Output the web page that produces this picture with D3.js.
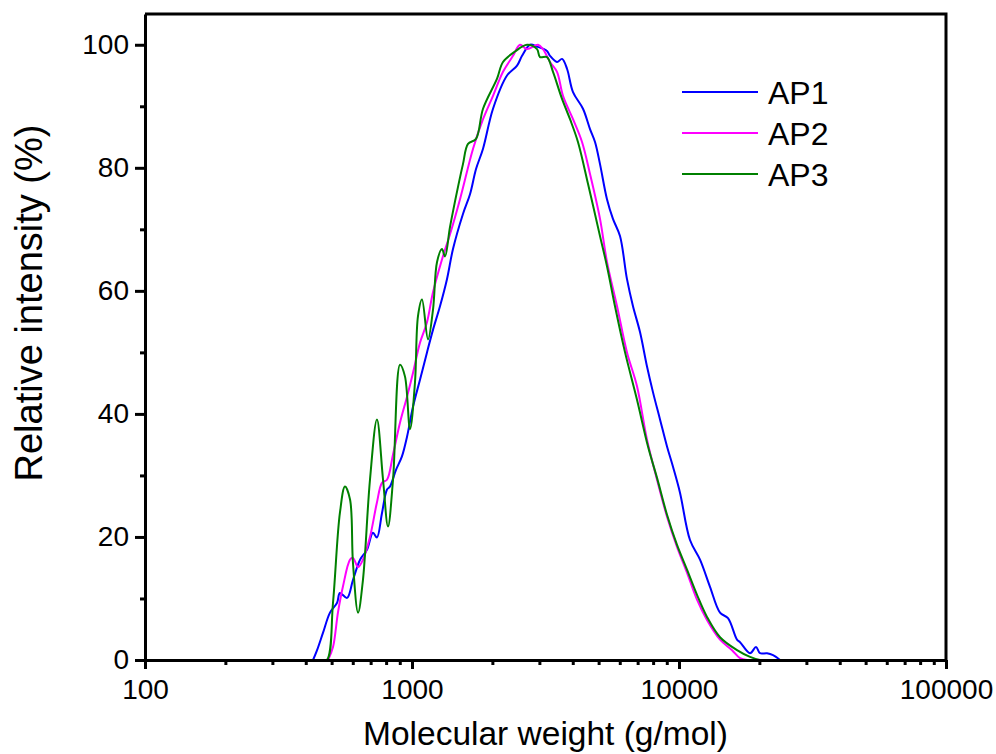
<!DOCTYPE html>
<meta charset="utf-8">
<head>
<title>Molecular weight distribution</title>
<style>
  body { margin: 0; background: #fff; }
  text { font-family: "Liberation Sans", Arial, sans-serif; fill: #000; }
  .axis path, .axis line { stroke: #000; stroke-width: 3; }
  .series { fill: none; stroke-width: 2; stroke-linejoin: round; }
</style>
</head>
<body>
<svg width="996" height="754"></svg>
<script src="https://d3js.org/d3.v7.min.js"></script>
<script>
// AP1 (blue)
var ap1Mw = [426, 441, 464, 493, 524, 537, 571, 601, 639, 678, 714, 739, 772, 806, 827, 871, 917, 958, 1009, 1072, 1138, 1199, 1273, 1352, 1424, 1552, 1649, 1737, 1845, 2011, 2269, 2474, 2583, 2767, 2939, 3203, 3288, 3492, 3647, 3807, 4009, 4369, 4642, 4847, 5060, 5374, 5658, 6012, 6386, 6725, 7144, 7589, 7993, 8490, 9018, 9496, 10086, 10995, 11987, 13064, 14244, 15259, 16493, 16925, 18450, 19430, 20110, 21360, 22500, 23900];
var ap1Val = [0, 1.6, 4.4, 7.7, 9.3, 10.9, 10.1, 13.0, 16.3, 17.9, 20.7, 19.9, 23.9, 27.7, 28.2, 30.9, 33.1, 36.3, 41.2, 45.6, 50.0, 53.7, 57.5, 61.9, 66.8, 72.5, 75.7, 79.8, 83.1, 89.6, 95.0, 96.6, 98.2, 100, 99.7, 99.0, 98.2, 97.2, 97.7, 96.1, 92.3, 89.6, 86.3, 84.2, 80.6, 74.9, 71.7, 68.9, 61.9, 57.5, 53.3, 47.7, 43.5, 39.1, 34.7, 31.4, 27.2, 19.5, 16.3, 11.9, 7.7, 6.8, 3.3, 2.9, 1.1, 2.1, 1.1, 1.1, 0.8, 0];

// AP2 (magenta)
var ap2Mw = [485, 506, 528, 551, 586, 601, 628, 655, 696, 739, 772, 806, 849, 902, 958, 1009, 1072, 1138, 1199, 1295, 1388, 1513, 1693, 1845, 2011, 2192, 2389, 2538, 2696, 2965, 3095, 3288, 3492, 3677, 4009, 4333, 4642, 5060, 5374, 5860, 6386, 6962, 7589, 8274, 9018, 9830, 10715, 11680, 12730, 14244, 15800, 16925, 17980];
var ap2Val = [0, 2.1, 7.7, 11.9, 16.3, 16.6, 15.1, 16.3, 20.0, 25.6, 28.8, 29.3, 33.4, 38.6, 42.8, 46.7, 51.6, 54.9, 59.8, 65.1, 69.2, 74.9, 83.1, 87.9, 91.7, 95.6, 98.2, 100, 99.3, 100, 99.3, 97.2, 95.6, 91.7, 87.9, 84.2, 79.0, 71.7, 64.7, 57.5, 50.0, 44.5, 35.8, 29.3, 23.3, 18.4, 14.2, 9.8, 6.5, 3.3, 1.6, 0.3, 0];

// AP3 (green)
var ap3Mw = [452, 480, 506, 537, 561, 586, 601, 628, 655, 696, 739, 779, 813, 849, 902, 941, 983, 1026, 1053, 1090, 1148, 1199, 1241, 1295, 1329, 1388, 1487, 1552, 1621, 1737, 1845, 2082, 2192, 2431, 2696, 2939, 3015, 3203, 3374, 3647, 3907, 4184, 4562, 5060, 5374, 5758, 6280, 6962, 7655, 8274, 9018, 9830, 10715, 11680, 12730, 14244, 16493, 18450, 20110, 23900];
var ap3Val = [0, 0, 9.3, 23.9, 28.2, 26.1, 15.8, 7.7, 13.0, 29.3, 39.1, 29.3, 21.7, 29.3, 48.0, 46.1, 37.5, 45.1, 55.9, 58.6, 52.1, 57.0, 64.7, 66.8, 65.6, 70.4, 76.9, 80.6, 83.9, 84.7, 89.6, 94.5, 97.2, 98.9, 100, 99.3, 98.0, 98.0, 95.6, 91.2, 87.9, 84.2, 77.4, 68.9, 64.0, 57.5, 50.0, 42.3, 34.7, 29.6, 23.6, 18.7, 14.7, 10.6, 7.0, 3.7, 1.6, 0.5, 0, 0];

var seriesNames = ["AP1", "AP2", "AP3"];
var seriesColors = ["#0000ff", "#ff00ff", "#008000"];
var xMajor = [100, 1000, 10000, 100000];
var yMajor = [0, 20, 40, 60, 80, 100];
var yMinor = [10, 30, 50, 70, 90];

var svg = d3.select("svg"),
    margin = {top: 14, right: 50, bottom: 94, left: 145},
    width = +svg.attr("width") - margin.left - margin.right,
    height = +svg.attr("height") - margin.top - margin.bottom,
    g = svg.append("g").attr("transform", "translate(" + margin.left + "," + margin.top + ")");

var x = d3.scaleLog().domain([100, 100000]).range([0, width]);
var y = d3.scaleLinear().domain([0, 105]).range([height, 0]);

// minor x ticks 200..900 of every decade
var xMinor = [];
[100, 1000, 10000].forEach(function (d) {
  for (var k = 2; k <= 9; k++) xMinor.push(d * k);
});

// frame
g.append("path")
    .attr("d", "M0,0H" + width + "V" + height)
    .attr("fill", "none")
    .attr("stroke", "#000")
    .attr("stroke-width", 3);

// series
var mws = [ap1Mw, ap2Mw, ap3Mw], vals = [ap1Val, ap2Val, ap3Val];
var line = d3.line()
    .x(function (d) { return x(d[0]); })
    .y(function (d) { return y(d[1]); })
    .curve(d3.curveCatmullRom.alpha(0.5));

mws.forEach(function (mw, i) {
  var pts = mw.map(function (m, j) { return [m, vals[i][j]]; });
  g.append("path")
      .datum(pts)
      .attr("class", "series")
      .attr("stroke", seriesColors[i])
      .attr("d", line);
});

// x axis
g.append("g")
    .attr("class", "axis")
    .attr("transform", "translate(0," + height + ")")
    .call(d3.axisBottom(x).tickValues(xMinor).tickSize(5).tickFormat(""))
    .select(".domain").remove();

var xAx = g.append("g")
    .attr("class", "axis")
    .attr("transform", "translate(0," + height + ")")
    .call(d3.axisBottom(x).tickValues(xMajor).tickSize(9).tickSizeOuter(0).tickPadding(10).tickFormat(d3.format("d")));
xAx.selectAll("text").attr("font-size", 28).style("font-family", "Liberation Sans, Arial, sans-serif");

// y axis
g.append("g")
    .attr("class", "axis")
    .call(d3.axisLeft(y).tickValues(yMinor).tickSize(5).tickFormat(""))
    .select(".domain").remove();

var yAx = g.append("g")
    .attr("class", "axis")
    .call(d3.axisLeft(y).tickValues(yMajor).tickSize(10).tickSizeOuter(0).tickPadding(6));
yAx.selectAll("text").attr("font-size", 28).style("font-family", "Liberation Sans, Arial, sans-serif");
svg.selectAll(".axis text").attr("fill", "#000");

// axis titles
svg.append("text")
    .attr("x", margin.left + width / 2)
    .attr("y", 745)
    .attr("text-anchor", "middle")
    .attr("font-size", 33.5)
    .text("Molecular weight (g/mol)");

svg.append("text")
    .attr("transform", "translate(42," + 303 + ") rotate(-90)")
    .attr("text-anchor", "middle")
    .attr("font-size", 38)
    .text("Relative intensity (%)");

// legend
var legend = svg.append("g").attr("transform", "translate(682,92)");
seriesNames.forEach(function (name, i) {
  var row = legend.append("g").attr("transform", "translate(0," + i * 41 + ")");
  row.append("line")
      .attr("x1", 0).attr("x2", 76)
      .attr("stroke", seriesColors[i])
      .attr("stroke-width", 2);
  row.append("text")
      .attr("x", 86)
      .attr("dy", "0.36em")
      .attr("font-size", 32)
      .text(name);
});
</script>
</body>
</html>
